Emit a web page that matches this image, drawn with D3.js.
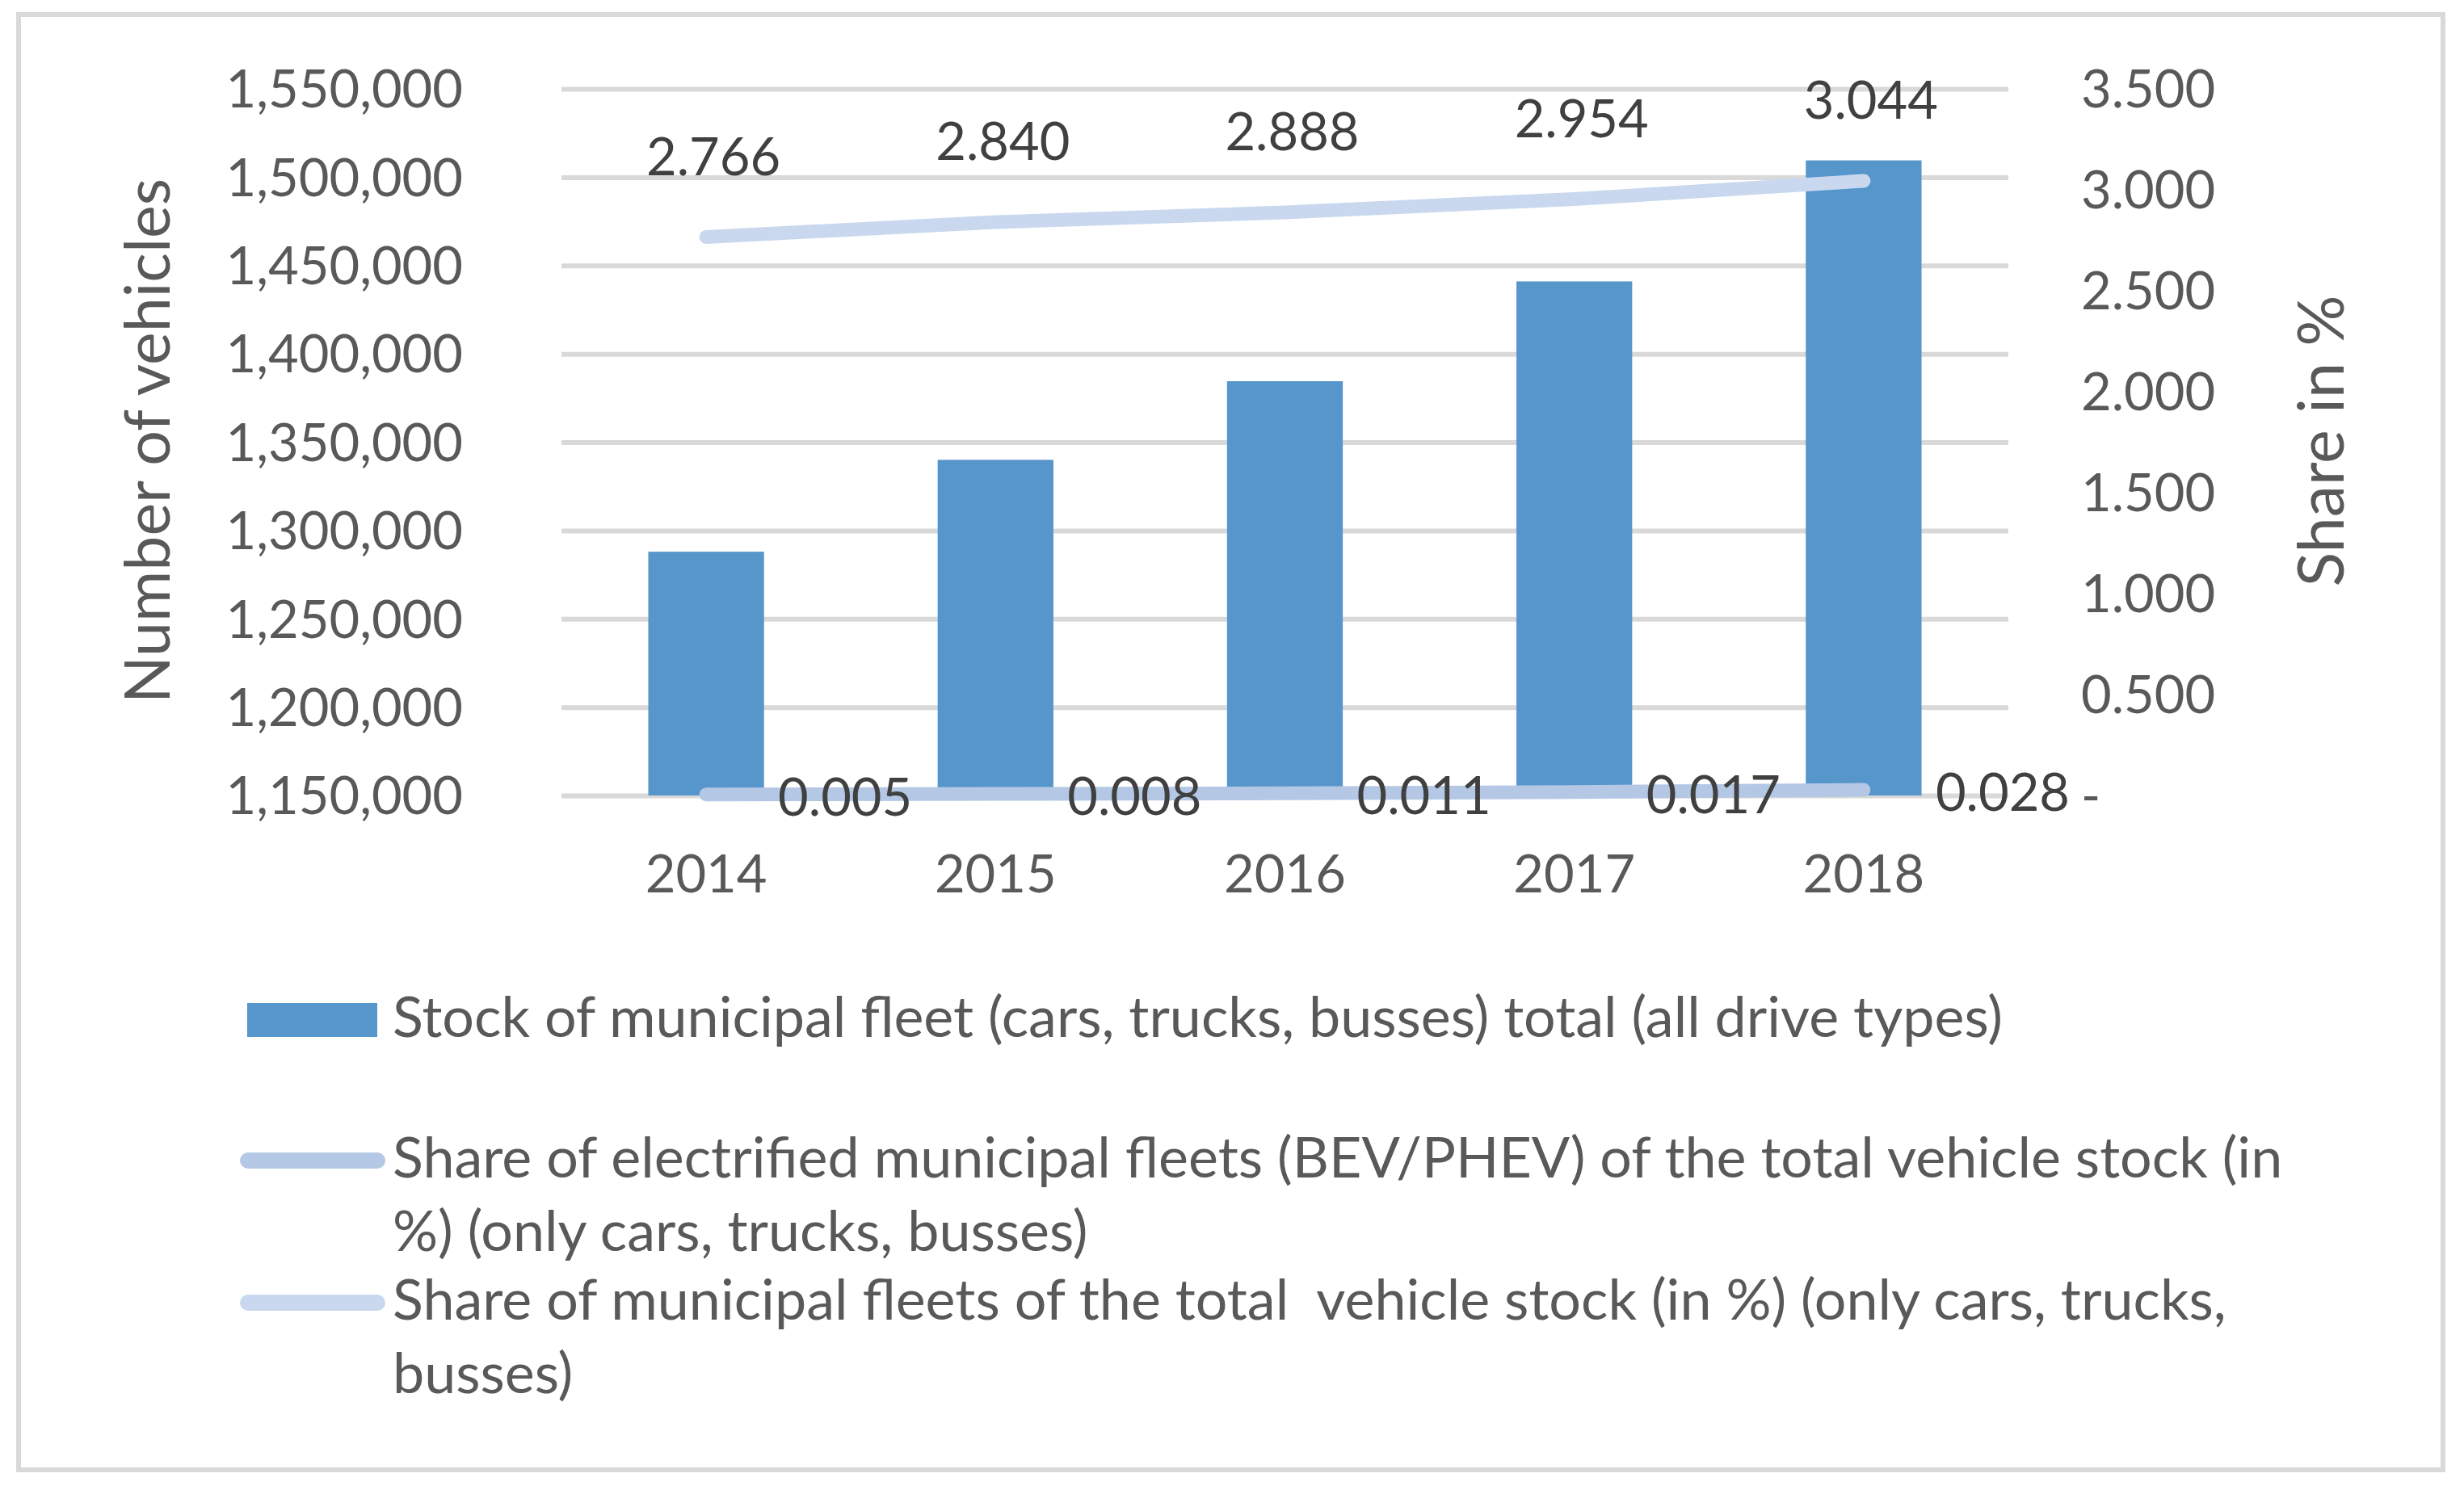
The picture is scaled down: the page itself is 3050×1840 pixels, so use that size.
<!DOCTYPE html>
<html>
<head>
<meta charset="utf-8">
<script src="https://cdn.jsdelivr.net/npm/d3@7"></script>
<style>
  body { margin: 0; background: #fff; }
  text { font-family: Lato, "Noto Sans", sans-serif; }
</style>
</head>
<body>
<svg width="3050" height="1840"></svg>
<script>
const svg = d3.select('svg');

// data
const years = ['2014', '2015', '2016', '2017', '2018'];
const fleetStock = [1288000, 1340000, 1384500, 1441000, 1509500];
const shareElectrified = [0.005, 0.008, 0.011, 0.017, 0.028];
const shareMunicipal = [2.766, 2.840, 2.888, 2.954, 3.044];
const leftTicks = [1150000, 1200000, 1250000, 1300000, 1350000, 1400000, 1450000, 1500000, 1550000];
const rightTicks = [0, 0.5, 1, 1.5, 2, 2.5, 3, 3.5];
const legendLabels = [
  ['Stock of municipal fleet (cars, trucks, busses) total (all drive types)'],
  ['Share of electrified municipal fleets (BEV/PHEV) of the total vehicle stock (in', '%) (only cars, trucks, busses)'],
  ['Share of municipal fleets of the total  vehicle stock (in %) (only cars, trucks,', 'busses)']
];

const plot = { left: 695, right: 2486, top: 110, bottom: 985 };

const x = d3.scaleBand()
  .domain(years)
  .range([plot.left, plot.right])
  .paddingInner(0.6)
  .paddingOuter(0.3);

const yLeft = d3.scaleLinear()
  .domain([1150000, 1550000])
  .range([plot.bottom, plot.top]);

const yRight = d3.scaleLinear()
  .domain([0, 3.5])
  .range([plot.bottom, plot.top]);

const cx = d => x(d) + x.bandwidth() / 2;

// outer frame
svg.append('rect')
  .attr('x', 23).attr('y', 18)
  .attr('width', 3001).attr('height', 1802)
  .attr('fill', 'none')
  .attr('stroke', '#d9d9d9')
  .attr('stroke-width', 6);

// gridlines
svg.append('g')
  .attr('transform', `translate(${plot.left},0)`)
  .call(d3.axisLeft(yLeft).tickValues(leftTicks).tickSize(-(plot.right - plot.left)).tickFormat(''))
  .call(g => g.select('.domain').remove())
  .call(g => g.selectAll('line').attr('stroke', '#d9d9d9').attr('stroke-width', 6));

// left axis labels
svg.append('g')
  .attr('transform', `translate(${plot.left},0)`)
  .call(d3.axisLeft(yLeft).tickValues(leftTicks).tickSize(0).tickPadding(122).tickFormat(d3.format(',')))
  .call(g => g.select('.domain').remove())
  .call(g => g.selectAll('text')
    .attr('dy', '0.35em')
    .attr('fill', '#595959')
    .style('font-size', '65px')
    .style('font-family', 'Lato, "Noto Sans", sans-serif'));

// right axis labels
svg.append('g')
  .attr('transform', `translate(${plot.right},0)`)
  .call(d3.axisRight(yRight).tickValues(rightTicks).tickSize(0).tickPadding(90)
    .tickFormat(d => d === 0 ? '-' : d3.format('.3f')(d)))
  .call(g => g.select('.domain').remove())
  .call(g => g.selectAll('text')
    .attr('dy', '0.35em')
    .attr('fill', '#595959')
    .style('font-size', '65px')
    .style('font-family', 'Lato, "Noto Sans", sans-serif'));

// x axis labels
svg.append('g')
  .attr('transform', `translate(0,${plot.bottom})`)
  .call(d3.axisBottom(x).tickSize(0).tickPadding(120))
  .call(g => g.select('.domain').remove())
  .call(g => g.selectAll('text')
    .attr('dy', 0)
    .attr('fill', '#595959')
    .style('font-size', '65px')
    .style('font-family', 'Lato, "Noto Sans", sans-serif'));

// axis titles
svg.append('text')
  .attr('transform', 'translate(210,546) rotate(-90)')
  .attr('text-anchor', 'middle')
  .attr('fill', '#595959')
  .style('font-size', '77px')
  .text('Number of vehicles');

svg.append('text')
  .attr('transform', 'translate(2901,546) rotate(-90)')
  .attr('text-anchor', 'middle')
  .attr('fill', '#595959')
  .style('font-size', '79px')
  .text('Share in %');

// bars
svg.append('g')
  .selectAll('rect')
  .data(years.map((yr, i) => ({ yr, v: fleetStock[i] })))
  .enter()
    .append('rect')
    .attr('x', d => x(d.yr))
    .attr('y', d => yLeft(d.v))
    .attr('width', x.bandwidth())
    .attr('height', d => yLeft(1150000) - yLeft(d.v))
    .attr('fill', '#5796cb');

// lines
const line = d3.line()
  .x(d => cx(d.yr))
  .y(d => yRight(d.v));

const elec = years.map((yr, i) => ({ yr, v: shareElectrified[i] }));
const muni = years.map((yr, i) => ({ yr, v: shareMunicipal[i] }));

svg.append('path')
  .datum(elec)
  .attr('d', line)
  .attr('fill', 'none')
  .attr('stroke', '#b4c8e5')
  .attr('stroke-width', 17)
  .attr('stroke-linecap', 'round')
  .attr('stroke-linejoin', 'round');

svg.append('path')
  .datum(muni)
  .attr('d', line)
  .attr('fill', 'none')
  .attr('stroke', '#c9d8ee')
  .attr('stroke-width', 17)
  .attr('stroke-linecap', 'round')
  .attr('stroke-linejoin', 'round');

// data labels
svg.append('g')
  .selectAll('text')
  .data(muni)
  .enter()
    .append('text')
    .attr('x', d => cx(d.yr) + 9)
    .attr('y', d => yRight(d.v) - 77)
    .attr('text-anchor', 'middle')
    .attr('fill', '#404040')
    .style('font-size', '65px')
    .text(d => d3.format('.3f')(d.v));

svg.append('g')
  .selectAll('text')
  .data(elec)
  .enter()
    .append('text')
    .attr('x', d => cx(d.yr) + 89)
    .attr('y', d => yRight(d.v) + 26)
    .attr('text-anchor', 'start')
    .attr('fill', '#404040')
    .style('font-size', '65px')
    .text(d => d3.format('.3f')(d.v));

// legend
const legendY = [1284, 1458, 1634];
const legend = svg.append('g');

legend.append('rect')
  .attr('x', 306).attr('y', legendY[0] - 42)
  .attr('width', 161).attr('height', 42)
  .attr('fill', '#5796cb');

[['#b4c8e5', 1], ['#c9d8ee', 2]].forEach(([c, i]) => {
  legend.append('line')
    .attr('x1', 307).attr('x2', 467)
    .attr('y1', legendY[i] - 21).attr('y2', legendY[i] - 21)
    .attr('stroke', c)
    .attr('stroke-width', 20)
    .attr('stroke-linecap', 'round');
});

legendLabels.forEach((lines, i) => {
  const t = legend.append('text')
    .attr('x', 486)
    .attr('y', legendY[i])
    .attr('fill', '#595959')
    .style('font-size', '70px')
    .style('white-space', 'pre');
  lines.forEach((s, j) => {
    t.append('tspan')
      .attr('x', 486)
      .attr('y', legendY[i] + j * 91)
      .text(s);
  });
});
</script>
</body>
</html>
